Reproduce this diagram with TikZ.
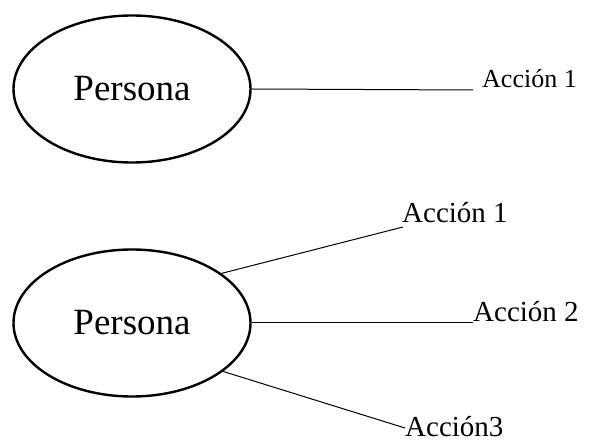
\documentclass[tikz,border=0pt]{standalone}
\usepackage{fontspec}
\setmainfont{Liberation Serif}
\usetikzlibrary{shapes.geometric}
\begin{document}
\begin{tikzpicture}[x=1pt,y=1pt,
  persona/.style={ellipse,draw,line width=2.4pt,minimum width=237pt,minimum height=147pt,inner sep=0pt,font=\fontsize{37}{42}\selectfont},
  accion/.style={anchor=base west,inner sep=0pt},
  link/.style={line width=1pt}]
\useasboundingbox (0,0) rectangle (591,444);
\node[persona] (e1) at (132,355) {\raisebox{-3pt}{Persona}};
\coordinate (a1) at (473,354);
\node[accion,font=\fontsize{26}{30}\selectfont] (t1) at (482,356) {Acción 1};
\draw[link] (e1.east) -- (a1);

\node[persona] (e2) at (132,121) {\raisebox{-3pt}{Persona}};
\coordinate (b1) at (403,217);
\coordinate (b2) at (473,121);
\coordinate (b3) at (405,16);
\node[accion,font=\fontsize{29}{34}\selectfont] (u1) at (402,221) {Acción 1};
\node[accion,font=\fontsize{29}{34}\selectfont] (u2) at (473,122) {Acción 2};
\node[accion,font=\fontsize{29}{34}\selectfont] (u3) at (405,8) {Acción3};
\draw[link] (e2.29) -- (b1);
\draw[link] (e2.east) -- (b2);
\draw[link] (e2.-28) -- (b3);
\end{tikzpicture}
\end{document}
